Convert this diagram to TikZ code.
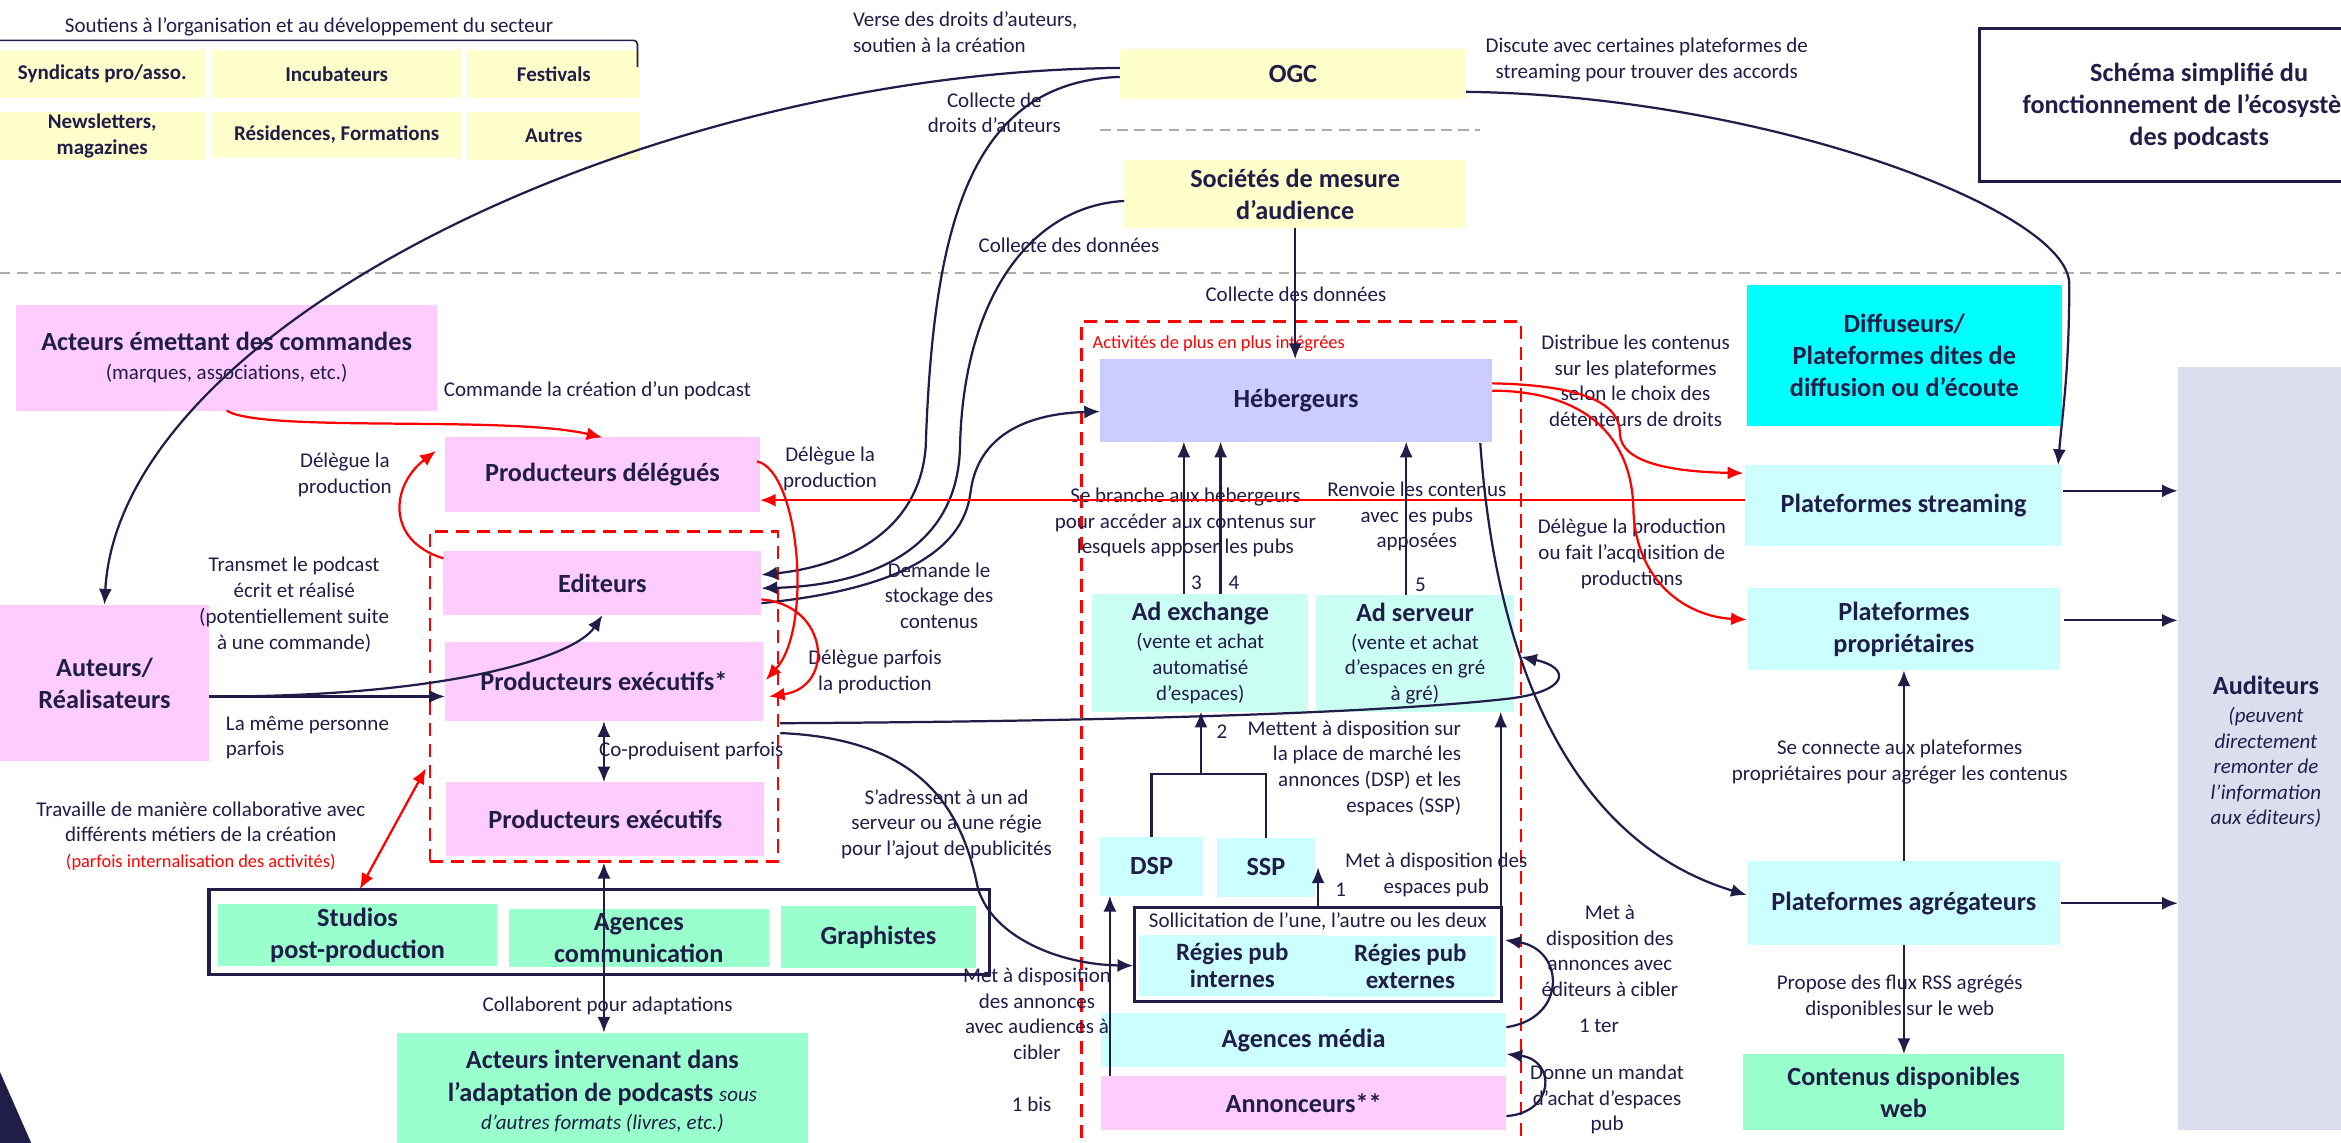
\documentclass[tikz,border=0pt]{standalone}
\usepackage{fontspec}
\setmainfont{Carlito}
\usetikzlibrary{arrows.meta,fit,calc}
\definecolor{navy}{RGB}{32,29,72}
\definecolor{ylw}{HTML}{FFFFCC}
\definecolor{pnk}{HTML}{FFCCFF}
\definecolor{lav}{HTML}{CCCCFF}
\definecolor{lcy}{HTML}{CCFFFF}
\definecolor{mnt}{HTML}{CCFFF4}
\definecolor{cyn}{HTML}{00FFFF}
\definecolor{grn}{HTML}{99FFCC}
\definecolor{audc}{HTML}{DDDDF0}
\definecolor{rd}{HTML}{FF0000}
\newcommand\fL{\fontsize{8}{9.8}\selectfont}
\newcommand\fB{\fontsize{10}{12.2}\selectfont\bfseries}
\newcommand\fS{\fontsize{8}{9.9}\selectfont\bfseries}
\newcommand\fR{\fontsize{7}{8.5}\selectfont}
\newcommand\fG{\fontsize{9.5}{10.5}\selectfont\bfseries}
\tikzset{
  fb/.style={inner sep=0pt, outer sep=0pt, align=center, text=navy, font=\fB},
  lbl/.style={inner sep=0pt, align=center, text=navy, font=\fL},
  tip/.tip={Latex[length=6pt,width=5pt]},
  arr/.style={draw=navy, line width=0.85pt, -tip},
  darr/.style={draw=navy, line width=0.85pt, tip-tip},
  rarr/.style={draw=rd, line width=0.85pt, -tip},
  rdarr/.style={draw=rd, line width=0.85pt, tip-tip},
  ln/.style={draw=navy, line width=0.85pt},
  gdash/.style={draw=gray!65, line width=0.6pt, dash pattern=on 4pt off 2.5pt},
  rdash/.style={draw=rd, line width=1pt, dash pattern=on 5pt off 3pt, inner sep=0pt},
}
% box: [style]{name}{x1}{y1}{x2}{y2}{text}
\newcommand\bx[7][]{%
  \node[fb, inner sep=0pt, fit={(#3,#4)(#5,#6)}, #1] (#2) {};
  \node[fb, #1, fill=none, draw=none] (#2t) at (#2.center) {#7};
}
\newcommand\rg[1]{{\fL\mdseries #1}}
\newcommand\ri[1]{{\fL\mdseries\itshape #1}}
\begin{document}
\begin{tikzpicture}[x=0.02cm,y=-0.02cm]
\useasboundingbox (0,0) rectangle (1568,765);
\fill[white] (0,0) rectangle (1568,765);
\clip (0,0) rectangle (1568,765);

% separators
\draw[gdash] (0,183) -- (1568,183);
\draw[gdash] (737,87) -- (991,87);

% ---------- top left support boxes
\bx[font=\fS,fill=ylw]{syn}{0}{33.5}{137}{65.5}{Syndicats pro/asso.}
\bx[font=\fS,fill=ylw]{inc}{142}{33.5}{309}{65.5}{Incubateurs}
\bx[font=\fS,fill=ylw]{fes}{313}{33.5}{429}{65.5}{Festivals}
\bx[font=\fS,fill=ylw]{nws}{0}{75}{137}{107}{Newsletters,\\magazines}
\bx[font=\fS,fill=ylw]{res}{142}{75}{309}{105.5}{Résidences, Formations}
\bx[font=\fS,fill=ylw]{aut}{313}{75}{429}{107}{Autres}
\node[lbl] (sout) at (207,18) {Soutiens à l’organisation et au développement du secteur};
\draw[ln, line width=0.6pt, rounded corners=1.5pt] (0,27) -| (427,45);

% ---------- OGC, mesure
\bx[fill=ylw]{ogc}{750}{33}{982}{66}{OGC}
\bx[fill=ylw]{soc}{753}{107}{982}{153}{Sociétés de mesure\\d’audience}

% title
\draw[navy, line width=1pt] (1326,19) rectangle (1660,121.7);
\node[fb] (ttl) at (1473,71) {Schéma simplifié du\\fonctionnement de l’écosystème\\des podcasts};

% ---------- left section
\bx[fill=pnk]{ac}{10.6}{204}{293}{275}{Acteurs émettant des commandes\\[-1.4pt]\rg{(marques, associations, etc.)}}
\bx[fill=pnk]{pd}{298}{293}{509}{343}{Producteurs délégués}
\node[rdash,fit={(288,356)(521,577)}] (grp) {};
\bx[fill=pnk]{ed}{297}{369}{510}{412}{Editeurs}
\bx[fill=pnk]{pe}{298}{430}{511}{483}{Producteurs exécutifs*}
\bx[fill=pnk]{px}{299}{524}{512}{573}{Producteurs exécutifs}
\bx[fill=pnk]{au}{0}{405}{140}{510}{Auteurs/\\Réalisateurs}

\node[draw=navy,line width=1.2pt,inner sep=0pt,fit={(140,595.5)(663,652.5)}] (sob) {};
\bx[fill=grn]{st}{146}{605.5}{333}{647}{Studios\\post-production}
\bx[fill=grn]{agc}{340.7}{609}{515}{647.7}{Agences\\communication}
\bx[fill=grn]{gr}{523}{607}{653.7}{648.6}{Graphistes}
\node[fill=grn,inner sep=0pt,fit={(266,692)(541,772)}] (ai) {};
\node[fb] (ait) at (403.5,731) {Acteurs intervenant dans\\[0.4pt]l’adaptation de podcasts \ri{sous}\\[-1.6pt]\ri{d’autres formats (livres, etc.)}};
\fill[navy] (0,718) -- (22,768) -- (0,768) -- cycle;

% ---------- middle section
\node[rdash,fit={(724.5,215.5)(1018.7,790)}] (grp2) {};
\node[inner sep=0pt,anchor=west,text=rd,font=\fR] (act) at (731.5,230.5) {Activités de plus en plus intégrées};
\bx[fill=lav]{heb}{736.8}{240.5}{999.5}{295.8}{Hébergeurs}
\bx[fill=mnt]{adx}{731.5}{398}{876.4}{476.7}{Ad exchange\\[-1.5pt]\rg{(vente et achat}\\[-2.4pt]\rg{automatisé}\\[-2.4pt]\rg{d’espaces)}}
\bx[fill=mnt]{ads}{881.5}{398.5}{1014}{476.7}{Ad serveur\\[-1.5pt]\rg{(vente et achat}\\[-2.4pt]\rg{d’espaces en gré}\\[-2.4pt]\rg{à gré)}}
\bx[fill=lcy]{dsp}{736.8}{560.7}{805.8}{600}{DSP}
\bx[fill=lcy]{ssp}{815}{561}{880.8}{601}{SSP}
\node[draw=navy,line width=1.1pt,inner sep=0pt,fit={(760,608)(1005.7,671)}] (reg) {};
\node[lbl] (regl) at (882.7,617.3) {Sollicitation de l’une, l’autre ou les deux};
\bx[font=\fG,fill=lcy]{rint}{763}{626}{887.8}{667}{Régies pub\\internes}
\bx[font=\fG,fill=lcy]{rext}{888}{627}{1001.3}{667.6}{Régies pub\\externes}
\bx[fill=lcy]{am}{737.4}{678.6}{1009}{714.8}{Agences média}
\bx[fill=pnk]{ann}{737.4}{720.7}{1009}{757}{Annonceurs**}

% ---------- right section
\bx[fill=cyn]{dif}{1170}{191}{1381}{285}{Diffuseurs/\\Plateformes dites de\\diffusion ou d’écoute}
\bx[fill=lcy]{ps}{1169}{311.5}{1381}{366}{Plateformes streaming}
\bx[fill=lcy]{pp}{1171}{394}{1379.5}{449}{Plateformes\\propriétaires}
\bx[fill=lcy]{pa}{1171}{577}{1379.5}{633}{Plateformes agrégateurs}
\bx[fill=grn]{cw}{1167.5}{706}{1382.5}{757}{Contenus disponibles\\web}
\node[fill=audc,inner sep=0pt,fit={(1459,246)(1620,757)}] (aud) {};
\node[fb] (audt) at (1517.7,503.5) {Auditeurs\\[-1.4pt]\ri{(peuvent}\\[-2.5pt]\ri{directement}\\[-2.5pt]\ri{remonter de}\\[-2.5pt]\ri{l’information}\\[-2.5pt]\ri{aux éditeurs)}};

% ---------- labels
\node[lbl,anchor=west,align=left] (l1) at (571,21.5) {Verse des droits d’auteurs,\\soutien à la création};
\node[lbl] (l2) at (666,75.5) {Collecte de\\droits d’auteurs};
\node[lbl] (l3) at (716,164) {Collecte des données};
\node[lbl] (l4) at (868,197) {Collecte des données};
\node[lbl] (l5) at (1103,40) {Discute avec certaines plateformes de\\streaming pour trouver des accords};
\node[lbl,anchor=west] (l6) at (297,262) {Commande la création d’un podcast};
\node[lbl] (l7) at (231,318) {Délègue la\\production};
\node[lbl] (l8) at (197,405) {Transmet le podcast\\écrit et réalisé\\(potentiellement suite\\à une commande)};
\node[lbl,anchor=west,align=left] (l9) at (151,494) {La même personne\\ parfois};
\node[lbl] (l10) at (134.5,560) {Travaille de manière collaborative avec\\différents métiers de la création\\{\fR\color{rd}(parfois internalisation des activités)}};
\node[lbl] (l11) at (556,314) {Délègue la\\production};
\node[lbl] (l12) at (586,450) {Délègue parfois\\la production};
\node[lbl] (l13) at (629,399) {Demande le\\stockage des\\contenus};
\node[lbl] (l14) at (463,503) {Co-produisent parfois};
\node[lbl] (l15) at (407,674) {Collaborent pour adaptations};
\node[lbl] (l16) at (794,350) {Se branche aux hébergeurs\\pour accéder aux contenus sur\\lesquels apposer les pubs};
\node[lbl] (l17) at (949,346) {Renvoie les contenus\\avec les pubs\\apposées};
\node[lbl] (n3) at (801.4,390.6) {3};
\node[lbl] (n4) at (826.5,390.6) {4};
\node[lbl] (n5) at (951.4,391.9) {5};
\node[lbl] (n2) at (818.5,490) {2};
\node[lbl,anchor=east,align=right] (l18) at (979,514.5) {Mettent à disposition sur\\la place de marché les\\annonces (DSP) et les\\espaces (SSP)};
\node[lbl] (l19) at (634,552) {S’adressent à un ad\\serveur ou à une régie\\pour l’ajout de publicités};
\node[lbl] (n1) at (898,596) {1};
\node[lbl] (l20) at (962,586) {Met à disposition des\\espaces pub};
\node[lbl] (l21) at (694.6,679) {Met à disposition\\des annonces\\avec audiences à\\cibler};
\node[lbl] (n1b) at (691,739.5) {1 bis};
\node[lbl] (l22) at (1078.3,637) {Met à\\disposition des\\annonces avec\\éditeurs à cibler};
\node[lbl] (n1t) at (1071,687) {1 ter};
\node[lbl] (l23) at (1076.4,736.5) {Donne un mandat\\d’achat d’espaces\\pub};
\node[lbl] (l24) at (1095.5,255) {Distribue les contenus\\sur les plateformes\\selon le choix des\\détenteurs de droits};
\node[lbl] (l25) at (1093,371) {Délègue la production\\ou fait l’acquisition de\\productions};
\node[lbl] (l26) at (1272.4,510.5) {Se connecte aux plateformes\\propriétaires pour agréger les contenus};
\node[lbl] (l27) at (1272.4,667.5) {Propose des flux RSS agrégés\\disponibles sur le web};

% ---------- connectors
% OGC -> Auteurs
\coordinate (o1) at ($(ogc.west)+(0,-4)$);
\draw[arr] (o1) .. controls (430,48) and (80,220) .. (au.north);
% OGC -> Editeurs
\coordinate (o2) at ($(ogc.west)+(0,2)$);
\coordinate (e1) at ($(ed.east)+(0,-5.5)$);
\draw[arr] (o2) .. controls (650,55) and (625,150) .. (620,300) .. controls (615,360) and (560,380) .. (e1);
% Societes -> Editeurs
\coordinate (s1) at ($(soc.west)+(0,4.6)$);
\coordinate (e2) at ($(ed.east)+(0,3.5)$);
\draw[arr] (s1) .. controls (690,138) and (645,200) .. (643,300) .. controls (641,370) and (580,392) .. (e2);
% Editeurs -> Hebergeurs
\coordinate (e3) at ($(ed.east)+(0,13.5)$);
\coordinate (h1) at ($(heb.west)+(0,7.5)$);
\draw[arr] (e3) .. controls (600,395) and (645,370) .. (650,330) .. controls (655,290) and (690,277) .. (h1);
% Societes -> Hebergeurs
\draw[arr] (soc.south) -- (soc.south |- heb.north);
% OGC -> streaming
\coordinate (o3) at ($(ogc.east)+(0,12)$);
\coordinate (p1) at ($(ps.north east)+(-2.5,0)$);
\draw[arr] (o3) .. controls (1180,64) and (1385,140) .. (1386,190) .. controls (1386,250) and (1381,280) .. (p1);

% red: commande
\draw[rarr] (ac.south) .. controls (175,290) and (340,278) .. (pd.north);
% red: editeurs -> prod delegues
\coordinate (e4) at ($(ed.north west)+(0,5)$);
\coordinate (d1) at ($(pd.north west)+(-6,9)$);
\draw[rarr] (e4) .. controls (258,362) and (262,325) .. (d1);
% red: prod delegues -> pe
\coordinate (d2) at ($(pd.east)+(-2,-9)$);
\coordinate (x1) at ($(pe.east)+(2,-1)$);
\draw[rarr] (d2) .. controls (535,315) and (545,420) .. (x1);
% red: editeurs -> pe
\coordinate (e5) at ($(ed.east)+(0,11)$);
\coordinate (x2) at ($(pe.east)+(4,10)$);
\draw[rarr] (e5) .. controls (555,405) and (560,460) .. (x2);

% Auteurs -> pe, ed
\coordinate (a1) at ($(au.east)+(0,9)$);
\draw[arr] (a1) -- (a1 -| pe.west);
\draw[arr] (a1) .. controls (300,467) and (385,440) .. (ed.south);

% double arrows
\draw[darr] (pe.south) -- (pe.south |- px.north);
\draw[darr] (grp.south) -- (grp.south |- ai.north);
\coordinate (g1) at (285.3,514.5);
\coordinate (g2) at (241,595.5);
\draw[rdarr] (g1) -- (g2);

% red: streaming -> prod delegues
\coordinate (r1) at ($(ps.west)+(0,-3.75)$);
\draw[rarr] (r1) -- (r1 -| pd.east);
% red: hebergeurs -> streaming / proprietaires
\coordinate (h2) at ($(heb.east)+(0,-11.4)$);
\coordinate (h3) at ($(heb.east)+(0,-6.5)$);
\coordinate (p2) at ($(ps.north west)+(-1.3,5.4)$);
\coordinate (p3) at ($(pp.west)+(-1,-6.5)$);
\draw[rarr] (h2) .. controls (1060,258) and (1085,270) .. (1085,290) .. controls (1085,310) and (1120,316) .. (p2);
\draw[rarr] (h3) .. controls (1070,262) and (1093,300) .. (1094,340) .. controls (1095,390) and (1130,413) .. (p3);
% hebergeurs -> agregateurs
\coordinate (h4) at ($(heb.south east)+(-8,1)$);
\coordinate (p4) at ($(pa.west)+(-1,-5.5)$);
\draw[arr] (h4) .. controls (1000,420) and (1040,560) .. (p4);

% ad exchange / serveur -> hebergeurs
\coordinate (x3) at ($(adx.north)+(-11,0)$);
\coordinate (x4) at ($(adx.north)+(13.6,0)$);
\coordinate (x5) at ($(ads.north)+(-5.9,0)$);
\draw[arr] (x3) -- (x3 |- heb.south);
\draw[arr] (x4) -- (x4 |- heb.south);
\draw[arr] (x5) -- (x5 |- heb.south);

% DSP/SSP -> ad exchange
\coordinate (j) at (804.4,518.4);
\draw[ln] (dsp.north) |- (j) -| (ssp.north);
\draw[arr] (j) -- (j |- adx.south);
% regies -> ssp, ad serveur
\draw[arr] (reg.north) -- (reg.north |- ssp.east);
\coordinate (q1) at ($(reg.north east)+(-1.5,0)$);
\draw[arr] (q1) -- (q1 |- ads.south);
% annonceurs -> dsp
\coordinate (q2) at ($(ann.north west)+(6,0)$);
\draw[arr] (q2) -- (q2 |- dsp.south);

% pe -> ad serveur (hook)
\coordinate (x6) at ($(pe.south east)+(11.6,1.4)$);
\coordinate (s2) at ($(ads.east)+(4.8,2.4)$);
\draw[arr] (x6) .. controls (780,483) and (940,476) .. (1010,468) .. controls (1052,463) and (1052,447) .. (s2);
% pe -> regies
\coordinate (x7) at ($(pe.south east)+(11.6,8)$);
\coordinate (g3) at ($(reg.west)+(0,7.3)$);
\draw[arr] (x7) .. controls (620,495) and (645,545) .. (655,595) .. controls (665,628) and (710,646) .. (g3);
% 1 ter
\coordinate (m1) at ($(am.east)+(0,-8.7)$);
\coordinate (m2) at ($(reg.east)+(1.3,-9.9)$);
\draw[arr] (m1) .. controls (1050,682) and (1048,636) .. (m2);
% mandat
\coordinate (m3) at ($(ann.east)+(0,8.7)$);
\coordinate (m4) at ($(am.east)+(0,9.3)$);
\draw[arr] (m3) .. controls (1042,745) and (1042,710) .. (m4);

% plateformes
\draw[arr] (pa.north) -- (pa.north |- pp.south);
\draw[arr] (pa.south) -- (pa.south |- cw.north);
\coordinate (t1) at ($(ps.east)+(1,-10)$);
\coordinate (t2) at ($(pp.east)+(3,-6)$);
\coordinate (t3) at ($(pa.east)+(1,0)$);
\draw[arr] (t1) -- (t1 -| aud.west);
\draw[arr] (t2) -- (t2 -| aud.west);
\draw[arr] (t3) -- (t3 -| aud.west);
\end{tikzpicture}
\end{document}
